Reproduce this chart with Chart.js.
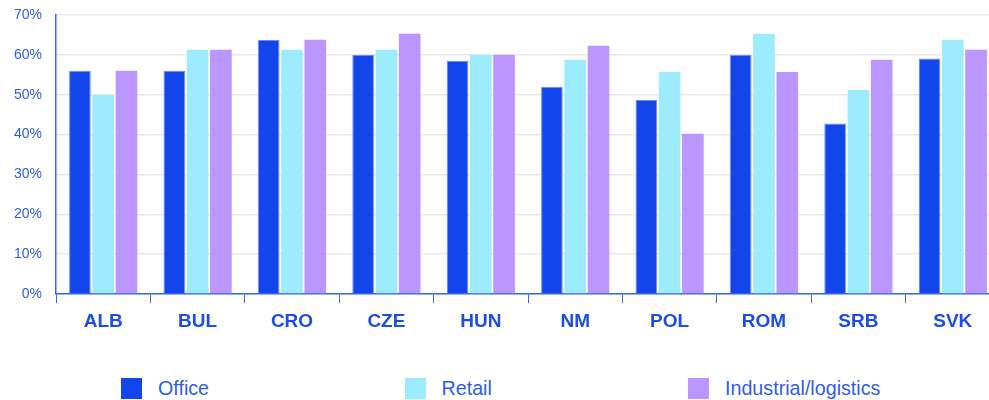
<!DOCTYPE html>
<html>
<head>
<meta charset="utf-8">
<script src="https://cdn.jsdelivr.net/npm/chart.js@4.4.1/dist/chart.umd.min.js"></script>
<style>
    html, body { margin: 0; padding: 0; background: #fff; overflow: hidden; }
    body { width: 989px; height: 400px; position: relative; font-family: 'Liberation Sans', Arial, sans-serif; }
    #chart-wrap { position: absolute; left: 0; top: 0; width: 1000px; height: 345px; }
    #legend { position: absolute; left: 0; top: 378px; width: 989px; height: 22px; }
    .legend-item { position: absolute; top: 0; height: 21px; }
    .legend-box { position: absolute; left: 0; top: 0; width: 21px; height: 21px; }
    .legend-text { position: absolute; left: 37px; top: -1px; line-height: 22px; font-size: 19.7px; color: #2f5de8; white-space: nowrap; }
</style>
</head>
<body>
<div id="chart-wrap"><canvas id="bar-chart"></canvas></div>
<div id="legend"></div>

<script>
var categories = ['ALB', 'BUL', 'CRO', 'CZE', 'HUN', 'NM', 'POL', 'ROM', 'SRB', 'SVK'];
var officeValues = [56, 56, 63.7, 60, 58.5, 52, 48.7, 60, 42.8, 59.1];
var retailValues = [50, 61.3, 61.3, 61.3, 60, 58.8, 55.7, 65.3, 51.2, 63.8];
var industrialValues = [56, 61.3, 63.8, 65.3, 60, 62.3, 40.2, 55.7, 58.8, 61.3];
var yTicks = [0, 10, 20, 30, 40, 50, 60, 70];

var axisBlue = '#3a66ee';
var textBlue = '#2f5de8';

var chart = new Chart(document.getElementById('bar-chart').getContext('2d'), {
    type: 'bar',
    data: {
        labels: categories,
        datasets: [
            {
                label: 'Office',
                data: officeValues,
                backgroundColor: '#1246ea',
                borderColor: '#6a8cf2',
                borderWidth: 1
            },
            {
                label: 'Retail',
                data: retailValues,
                backgroundColor: '#9decfe',
                borderWidth: 0
            },
            {
                label: 'Industrial/logistics',
                data: industrialValues,
                backgroundColor: '#bb96fe',
                borderWidth: 0
            }
        ]
    },
    options: {
        responsive: true,
        maintainAspectRatio: false,
        animation: false,
        categoryPercentage: 0.74,
        barPercentage: 0.93,
        layout: { padding: { top: 15, right: 0, bottom: 0, left: 0 } },
        plugins: {
            legend: { display: false },
            tooltip: { enabled: false }
        },
        scales: {
            x: {
                afterFit: function(s) {
                    s.height = 51;
                    s.paddingLeft = 0;
                    s.paddingRight = 0;
                },
                grid: {
                    offset: true,
                    drawOnChartArea: false,
                    drawTicks: true,
                    tickLength: 9,
                    color: axisBlue,
                    lineWidth: 1
                },
                border: { color: axisBlue, width: 1.5 },
                ticks: {
                    padding: 7,
                    color: '#1c4de6',
                    font: { family: "'Liberation Sans', Arial, sans-serif", size: 19, weight: 'bold' }
                }
            },
            y: {
                min: 0,
                max: 70,
                afterFit: function(s) {
                    s.width = 56;
                    s.paddingTop = 0;
                    s.paddingBottom = 0;
                },
                afterBuildTicks: function(s) {
                    s.ticks = yTicks.map(function(v) { return { value: v }; });
                },
                grid: {
                    color: '#e9e9e9',
                    lineWidth: 1.5,
                    drawTicks: false
                },
                border: { color: axisBlue, width: 1.5 },
                ticks: {
                    padding: 14,
                    color: textBlue,
                    font: { family: "'Liberation Sans', Arial, sans-serif", size: 14 },
                    callback: function(v) { return v + '%'; }
                }
            }
        }
    }
});

// legend built from the chart's datasets
var legendLeft = [121, 404.5, 688];
var legendHtml = '';
chart.data.datasets.forEach(function(ds, i) {
    legendHtml += '<div class="legend-item" style="left:' + legendLeft[i] + 'px">'
        + '<div class="legend-box" style="background:' + ds.backgroundColor + '"></div>'
        + '<div class="legend-text">' + ds.label + '</div>'
        + '</div>';
});
document.getElementById('legend').innerHTML = legendHtml;
</script>
</body>
</html>
